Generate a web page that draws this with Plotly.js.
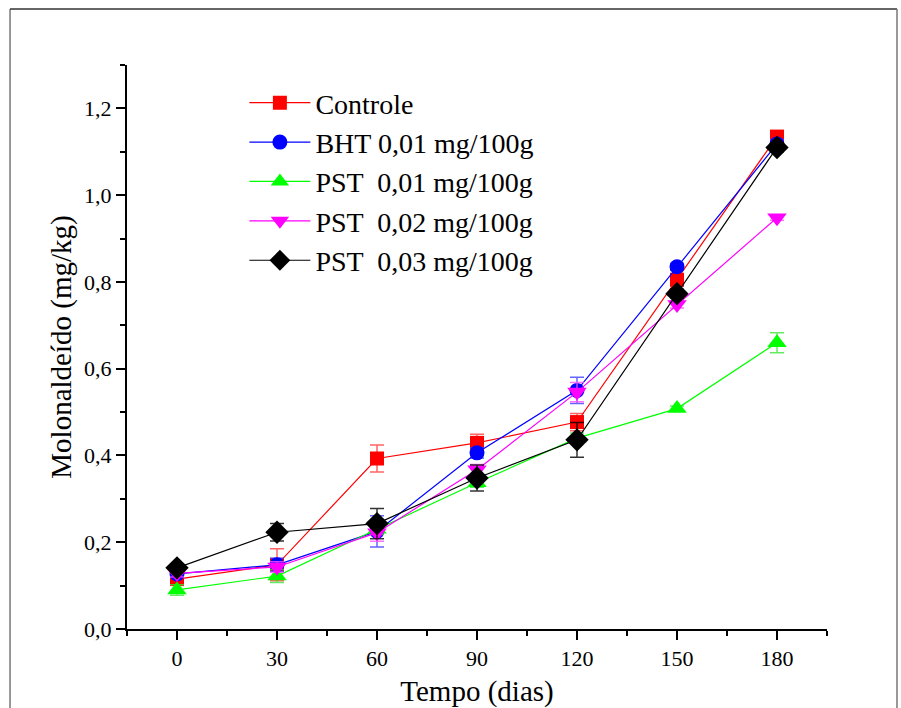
<!DOCTYPE html>
<html>
<head>
<meta charset="utf-8">
<script src="https://cdn.plot.ly/plotly-3.0.1.min.js"></script>
<style>
  html, body { margin: 0; padding: 0; background: #fff; }
  #chart { width: 901px; height: 708px; }
</style>
</head>
<body>
<div id="chart"></div>
<script>
const days = [0, 30, 60, 90, 120, 150, 180];

const controle    = [0.115, 0.148, 0.393, 0.429, 0.477, 0.805, 1.135];
const controleErr = [0.010, 0.037, 0.031, 0.020, 0.020, 0.010, 0.012];

const bht    = [0.127, 0.148, 0.225, 0.406, 0.550, 0.835, 1.118];
const bhtErr = [0.008, 0.015, 0.036, 0.012, 0.030, 0.008, 0.010];

const pst1    = [0.090, 0.122, 0.230, 0.337, 0.440, 0.508, 0.660];
const pst1Err = [0.012, 0.015, 0.012, 0.010, 0.012, 0.006, 0.023];

const pst2    = [0.128, 0.143, 0.222, 0.367, 0.546, 0.748, 0.948];
const pst2Err = [0.008, 0.012, 0.020, 0.012, 0.022, 0.008, 0.006];

const pst3    = [0.141, 0.223, 0.243, 0.348, 0.436, 0.773, 1.110];
const pst3Err = [0.006, 0.020, 0.035, 0.030, 0.040, 0.010, 0.010];

const names = ['Controle', 'BHT 0,01 mg/100g', 'PST  0,01 mg/100g', 'PST  0,02 mg/100g', 'PST  0,03 mg/100g'];

function trace(name, y, err, color, errColor, symbol, size) {
  return {
    x: days, y: y, name: name, type: 'scatter', mode: 'lines+markers',
    line: { color: color, width: 1.2 },
    marker: { color: color, symbol: symbol, size: size },
    error_y: { type: 'data', array: err, visible: true, color: errColor, thickness: 1.5, width: 7 }
  };
}

const data = [
  trace(names[0], controle, controleErr, '#ff0000', 'rgba(255,60,60,0.8)', 'square', 14),
  trace(names[1], bht, bhtErr, '#0000ff', 'rgba(60,60,255,0.8)', 'circle', 15),
  trace(names[2], pst1, pst1Err, '#00ff00', 'rgba(60,230,60,0.8)', 'triangle-up', 17),
  trace(names[3], pst2, pst2Err, '#ff00ff', 'rgba(255,80,255,0.8)', 'triangle-down', 17),
  trace(names[4], pst3, pst3Err, '#000000', 'rgba(0,0,0,0.8)', 'diamond', 18)
];

const fontFam = '"Liberation Serif", "Times New Roman", serif';

const layout = {
  width: 901, height: 708,
  margin: { l: 127, r: 74, t: 65, b: 79 },
  paper_bgcolor: '#fff', plot_bgcolor: '#fff',
  separators: ',.',
  font: { family: fontFam, color: '#000', size: 22 },
  showlegend: true,
  legend: {
    x: 0.1677, y: 0.977, xanchor: 'left', yanchor: 'top',
    font: { family: fontFam, size: 28, color: '#000' },
    bgcolor: 'rgba(0,0,0,0)', borderwidth: 0,
    tracegroupgap: 0, itemwidth: 61
  },
  xaxis: {
    range: [-15, 195],
    tickvals: days,
    ticktext: days.map(String),
    showgrid: false, zeroline: false,
    showline: true, linecolor: '#000', linewidth: 2,
    ticks: 'outside', ticklen: 9, tickwidth: 2, tickcolor: '#000',
    minor: { tickvals: [-15, 15, 45, 75, 105, 135, 165, 195], ticks: 'outside', ticklen: 5, tickwidth: 2, tickcolor: '#000' },
    tickfont: { family: fontFam, size: 22 },
    title: { text: 'Tempo (dias)', font: { family: fontFam, size: 29 }, standoff: 10 }
  },
  yaxis: {
    range: [0, 1.3],
    tickvals: [0, 0.2, 0.4, 0.6, 0.8, 1.0, 1.2],
    tickformat: '.1f',
    showgrid: false, zeroline: false,
    showline: true, linecolor: '#000', linewidth: 2,
    ticks: 'outside', ticklen: 9, tickwidth: 2, tickcolor: '#000',
    minor: { tickvals: [0.1, 0.3, 0.5, 0.7, 0.9, 1.1, 1.3], ticks: 'outside', ticklen: 5, tickwidth: 2, tickcolor: '#000' },
    tickfont: { family: fontFam, size: 22 },
    title: { text: 'Molonaldeído (mg/kg)', font: { family: fontFam, size: 29 }, standoff: 4 }
  },
  shapes: [
    { type: 'line', xref: 'paper', yref: 'paper', x0: -0.1671, x1: -0.1671, y0: 1.0993, y1: -0.2, line: { color: '#777', width: 1.5 } },
    { type: 'line', xref: 'paper', yref: 'paper', x0: -0.1671, x1: 1.1, y0: 1.0993, y1: 1.0993, line: { color: '#333', width: 1.5 } },
    { type: 'line', xref: 'paper', yref: 'paper', x0: 1.1, x1: 1.1, y0: 1.0993, y1: -0.2, line: { color: '#777', width: 1.5 } }
  ]
};

Plotly.newPlot('chart', data, layout, { displayModeBar: false, staticPlot: true });
</script>
</body>
</html>
